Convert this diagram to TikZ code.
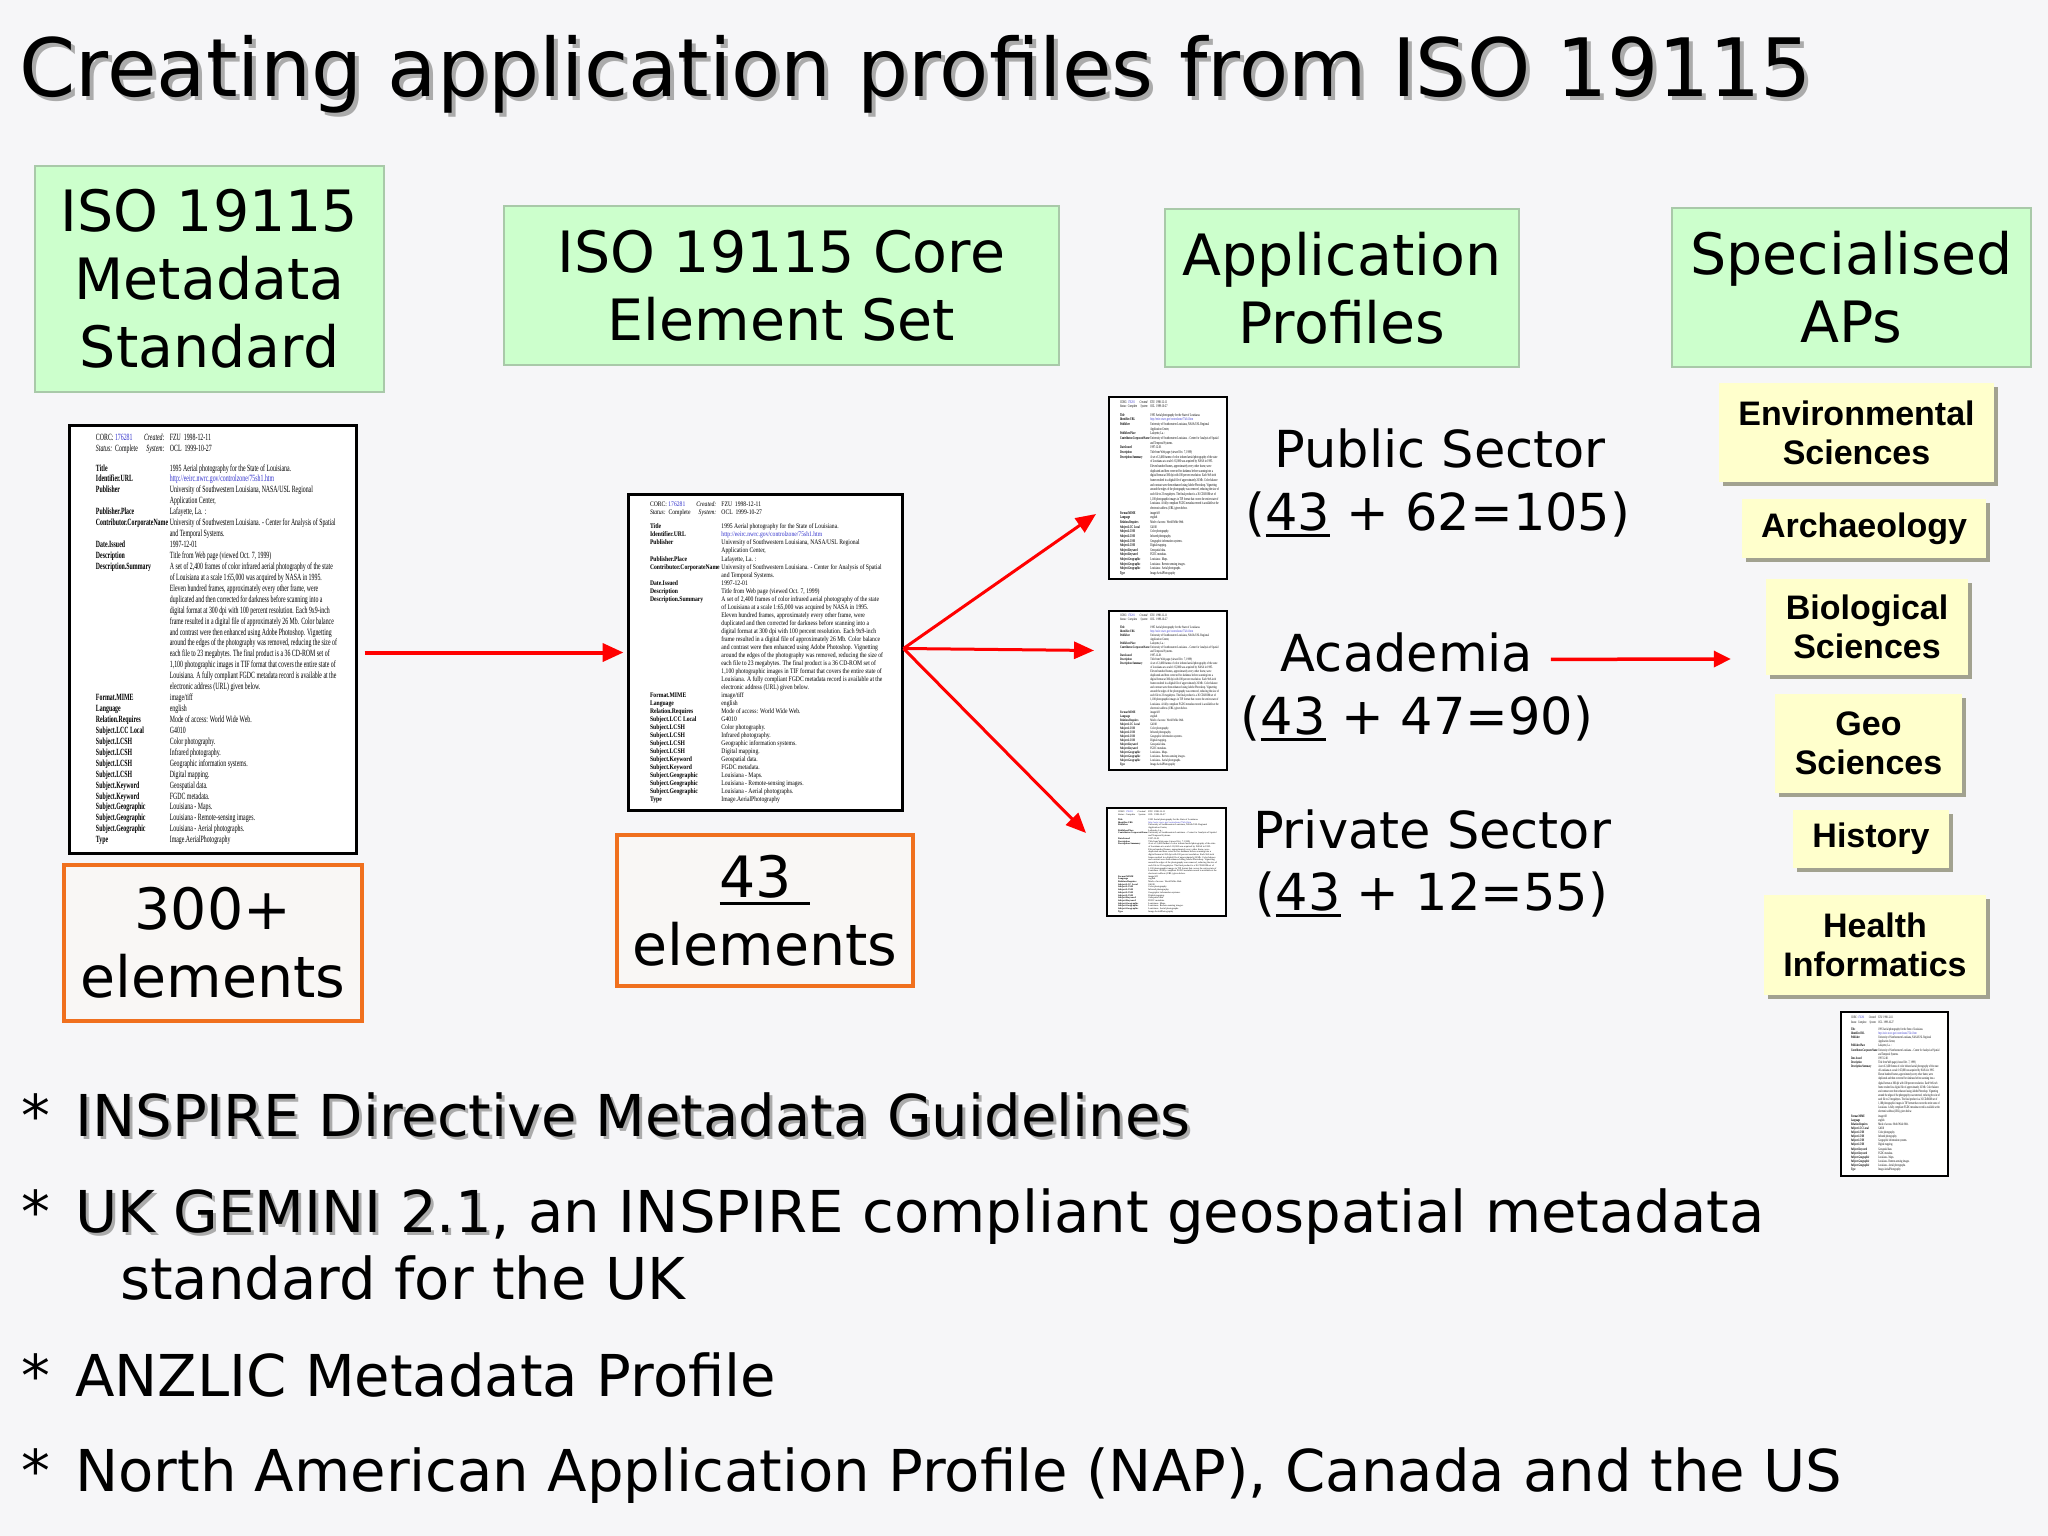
\documentclass[tikz,border=0pt]{standalone}
\usepackage{fontspec}
\usepackage{array}
\usetikzlibrary{arrows.meta,shadows}
\setmainfont{DejaVu Sans}
\newfontfamily\dcfont{Liberation Serif}
\newfontfamily\apfont{Liberation Sans}
\definecolor{bgcol}{HTML}{F6F6F8}
\definecolor{gfill}{HTML}{CCFFCC}
\definecolor{gbord}{HTML}{A9C9A9}
\definecolor{obord}{HTML}{F0701E}
\definecolor{ofill}{HTML}{F9F7F5}
\definecolor{yfill}{HTML}{FFFFCC}
\definecolor{yshadow}{HTML}{A2A290}
\definecolor{arrred}{HTML}{FF0000}
\definecolor{shadowgray}{HTML}{ABABAB}
\definecolor{linkblue}{HTML}{3333CC}
\newsavebox\dcbox
\newsavebox\ulbox
\newcommand\myul[1]{\sbox\ulbox{#1}\rlap{\rule[-0.13em]{\wd\ulbox}{0.055em}}\usebox\ulbox}
\tikzset{
  greenbox/.style={draw=gbord, line width=1.5pt, fill=gfill, align=center, inner sep=0pt,
    font=\fontsize{57}{68}\selectfont},
  orangebox/.style={draw=obord, line width=4pt, fill=ofill, align=center, inner sep=0pt,
    font=\fontsize{57}{68}\selectfont},
  ybox/.style={fill=yfill, align=center, inner sep=0pt,
    font=\apfont\bfseries\fontsize{34}{39}\selectfont,
    drop shadow={shadow xshift=4pt, shadow yshift=-4pt, fill=yshadow, opacity=1}},
  docbox/.style={draw=black, fill=white, inner xsep=0pt},
  plabel/.style={anchor=base, inner sep=0pt, font=\fontsize{51}{63}\selectfont},
  bullettxt/.style={anchor=base west, inner sep=0pt, font=\fontsize{57.7}{68}\selectfont},
  titletxt/.style={anchor=base west, inner sep=0pt, font=\fontsize{80.5}{96}\selectfont},
  redarrow/.style={draw=arrred, line width=4pt, -{Triangle[length=21pt,width=18pt]}},
  fanarrow/.style={draw=arrred, line width=3pt, -{Triangle[length=20pt,width=17pt]}},
}
\begin{document}
\sbox\dcbox{\dcfont\fontsize{10}{11.5}\selectfont
\begin{tabular}[t]{@{}>{\bfseries}l@{\hspace{3pt}}l@{}}
\mdseries CORC:\ \textcolor{linkblue}{176281}\hfill\textit{Created:}\hspace*{6pt} & FZU\enspace 1998-12-11\\
\mdseries\textit{Status:}\ \ Complete\hfill\textit{System:}\hspace*{6pt} & OCL\enspace 1999-10-27\\[9pt]
Title & 1995 Aerial photography for the State of Louisiana.\\
Identifier.URL & \textcolor{linkblue}{http://eeirc.nwrc.gov/controlzone/75sh1.htm}\\
Publisher & University of Southwestern Louisiana, NASA/USL Regional\\
 & Application Center,\\
Publisher.Place & Lafayette, La. :\\
Contributor.CorporateName & University of Southwestern Louisiana. - Center for Analysis of Spatial\\
 & and Temporal Systems.\\
Date.Issued & 1997-12-01\\
Description & Title from Web page (viewed Oct. 7, 1999)\\
Description.Summary & A set of 2,400 frames of color infrared aerial photography of the state\\
 & of Louisiana at a scale 1:65,000 was acquired by NASA in 1995.\\
 & Eleven hundred frames, approximately every other frame, were\\
 & duplicated and then corrected for darkness before scanning into a\\
 & digital format at 300 dpi with 100 percent resolution. Each 9x9-inch\\
 & frame resulted in a digital file of approximately 26 Mb. Color balance\\
 & and contrast were then enhanced using Adobe Photoshop. Vignetting\\
 & around the edges of the photography was removed, reducing the size of\\
 & each file to 23 megabytes. The final product is a 36 CD-ROM set of\\
 & 1,100 photographic images in TIF format that covers the entire state of\\
 & Louisiana. A fully compliant FGDC metadata record is available at the\\
 & electronic address (URL) given below.\\
Format.MIME & image/tiff\\
Language & english\\
Relation.Requires & Mode of access: World Wide Web.\\
Subject.LCC Local & G4010\\
Subject.LCSH & Color photography.\\
Subject.LCSH & Infrared photography.\\
Subject.LCSH & Geographic information systems.\\
Subject.LCSH & Digital mapping.\\
Subject.Keyword & Geospatial data.\\
Subject.Keyword & FGDC metadata.\\
Subject.Geographic & Louisiana - Maps.\\
Subject.Geographic & Louisiana - Remote-sensing images.\\
Subject.Geographic & Louisiana - Aerial photographs.\\
Type & Image.AerialPhotography
\end{tabular}}%
\begin{tikzpicture}[x=1pt,y=-1pt]
\fill[bgcol] (0,0) rectangle (2048,1536);
\useasboundingbox (0,0) rectangle (2048,1536);

% title
\node[titletxt, text=shadowgray] (titlesh) at (23.5,101) {Creating application profiles from ISO 19115};
\node[titletxt] (title) at (19.5,97) {Creating application profiles from ISO 19115};

% green headers
\node[greenbox, minimum width=349pt, minimum height=226pt] (g1) at (209.5,279) {ISO 19115\\Metadata\\Standard};
\node[greenbox, minimum width=555pt, minimum height=159pt] (g2) at (781.5,285.5) {ISO 19115 Core\\Element Set};
\node[greenbox, minimum width=354pt, minimum height=158pt] (g3) at (1342,288) {Application\\Profiles};
\node[greenbox, minimum width=359pt, minimum height=159pt] (g4) at (1851.5,287.5) {Specialised\\APs};

% document thumbnails
\node[docbox, line width=3pt, inner ysep=7pt] (doc1) at (213,639.5)
  {\hspace*{26pt}\resizebox*{241pt}{413pt}{\usebox\dcbox}\hspace*{19pt}};
\node[docbox, line width=3pt, inner ysep=6pt] (doc2) at (765,652.5)
  {\hspace*{22pt}\resizebox*{233pt}{303pt}{\usebox\dcbox}\hspace*{19pt}};
\node[docbox, line width=2pt, inner ysep=3pt] (pubdoc) at (1168,488)
  {\hspace*{11pt}\resizebox*{99pt}{176pt}{\usebox\dcbox}\hspace*{8pt}};
\node[docbox, line width=2pt, inner ysep=3pt] (acdoc) at (1168,690.5)
  {\hspace*{11pt}\resizebox*{99pt}{153pt}{\usebox\dcbox}\hspace*{8pt}};
\node[docbox, line width=2pt, inner ysep=3pt] (prdoc) at (1166.5,862)
  {\hspace*{11pt}\resizebox*{99pt}{102pt}{\usebox\dcbox}\hspace*{9pt}};
\node[docbox, line width=2pt, inner ysep=4pt] (spdoc) at (1894.5,1094)
  {\hspace*{10pt}\resizebox*{89pt}{156pt}{\usebox\dcbox}\hspace*{8pt}};

% element counts
\node[orangebox, minimum width=298pt, minimum height=156pt] (o1) at (213,943) {300+\\elements};
\node[orangebox, minimum width=296pt, minimum height=151pt] (o2) at (765,910.5) {\myul{43\ }\\elements};

% profile labels
\node[plabel] (pubname) at (1440,467) {Public Sector};
\node[plabel] (pubcount) at (1438,530) {(\myul{43} + 62=105)};
\node[plabel] (acadname) at (1407,671) {Academia};
\node[plabel] (acadcount) at (1417,734) {(\myul{43} + 47=90)};
\node[plabel] (privname) at (1432,848) {Private Sector};
\node[plabel] (privcount) at (1432,910) {(\myul{43} + 12=55)};

% specialised APs
\node[ybox, minimum width=275pt, minimum height=99pt] (env) at (1856.5,432.5) {Environmental\\Sciences};
\node[ybox, minimum width=244pt, minimum height=59pt] (arch) at (1864,528.5) {Archaeology};
\node[ybox, minimum width=202pt, minimum height=96pt] (bio) at (1867,627) {Biological\\Sciences};
\node[ybox, minimum width=187pt, minimum height=99pt] (geo) at (1868.5,743.5) {Geo\\Sciences};
\node[ybox, minimum width=156pt, minimum height=58pt] (hist) at (1871,839) {History};
\node[ybox, minimum width=222pt, minimum height=100pt] (health) at (1875,945) {Health\\Informatics};

% arrows
\draw[redarrow] ([xshift=7pt,yshift=-13pt]doc1.east) -- ([xshift=-3pt]doc2.west);
\draw[fanarrow] ([yshift=4pt]doc2.east) -- ([xshift=-12pt,yshift=-26pt]pubdoc.west);
\draw[fanarrow] ([yshift=4pt]doc2.east) -- ([xshift=-14pt,yshift=40pt]acdoc.west);
\draw[fanarrow] ([yshift=4pt]doc2.east) -- ([xshift=-20pt,yshift=29pt]prdoc.west);
\draw[draw=arrred, line width=3.5pt, -{Triangle[length=17pt,width=16pt]}]
  ([xshift=17.5pt,yshift=-7.4pt]acadname.east) -- ([xshift=-35pt,yshift=-32pt]bio.west);

% bullets
\node[bullettxt] (s1) at (21,1136) {*};
\node[bullettxt, text=shadowgray] (b1sh) at (78,1139) {INSPIRE Directive Metadata Guidelines};
\node[bullettxt] (b1) at (75,1136) {INSPIRE Directive Metadata Guidelines};
\node[bullettxt] (s2) at (21,1232) {*};
\node[bullettxt, text=shadowgray] (b2sh) at (78,1235) {UK GEMINI 2.1};
\node[bullettxt] (b2) at (75,1232) {UK GEMINI 2.1, an INSPIRE compliant geospatial metadata};
\node[bullettxt] (b2b) at (120,1299) {standard for the UK};
\node[bullettxt] (s3) at (21,1396) {*};
\node[bullettxt] (b3) at (75,1396) {ANZLIC Metadata Profile};
\node[bullettxt] (s4) at (21,1491) {*};
\node[bullettxt] (b4) at (75,1491) {North American Application Profile (NAP), Canada and the US};
\end{tikzpicture}
\end{document}
